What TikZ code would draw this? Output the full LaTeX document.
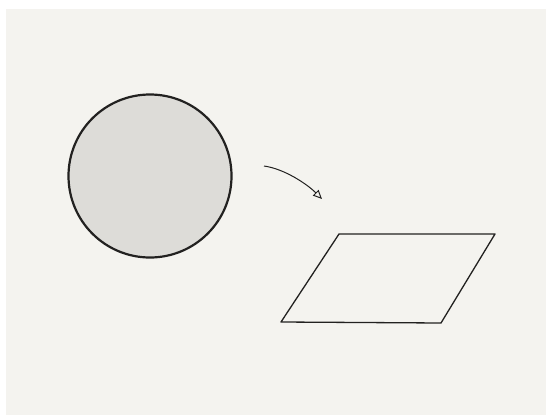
\documentclass[tikz,border=0pt]{standalone}
\usepackage{tikz}
\usetikzlibrary{arrows.meta, positioning}
\definecolor{paper}{RGB}{244,243,239}
\definecolor{disc}{RGB}{221,220,216}
\definecolor{ink}{RGB}{34,33,32}

\begin{document}
\begin{tikzpicture}[x=1pt, y=-1pt, >={Triangle[open, length=9pt, width=8pt]}]
  \useasboundingbox (0,0) rectangle (546,415);
  \fill[paper] (6,9) rectangle (546,415);
  \node[draw=ink, line width=2.2pt, circle, fill=disc, minimum size=163pt, inner sep=0pt]
    (sphere) at (150,176) {};
  % flat sheet
  \coordinate (tl) at (339,234);
  \coordinate (tr) at (495,234);
  \coordinate (br) at (441,323);
  \coordinate (bl) at (281,322);
  \draw[ink, line width=1.3pt, line join=round] (tl) -- (tr) -- (br) -- (bl) -- cycle;
  \coordinate (from) at (264,166);
  \coordinate (to) at (322,199);
  \draw[->, ink, line width=1pt] (from) to[out=-8, in=135, looseness=0.8] (to);
\end{tikzpicture}
\end{document}
